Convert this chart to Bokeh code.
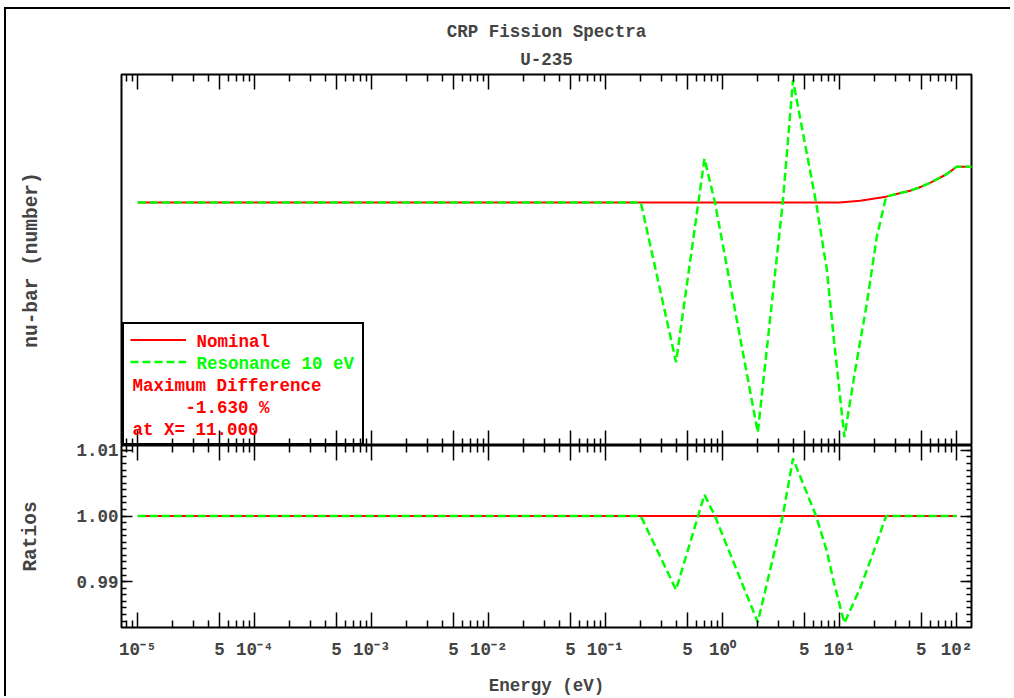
from bokeh.plotting import figure
from bokeh.models import (LogAxis, LinearAxis, FixedTicker, Range1d, Legend, LegendItem, Title,
                          Label, CustomJSTickFormatter, PrintfTickFormatter, CustomLabelingPolicy)
from bokeh.layouts import column
from bokeh.embed import file_html
from bokeh.resources import INLINE

# ---------------- data ----------------
nominal_e = [1e-5, 1e-3, 1e-1, 10.0, 15.0, 20.0, 25.0, 30.0, 40.0, 50.0, 60.0, 70.0, 80.0, 90.0, 100.0, 140.0]
nominal_nu = [2.4367, 2.4367, 2.4367, 2.4367, 2.4370, 2.4374, 2.4377, 2.4381, 2.4387, 2.4394,
              2.4401, 2.4408, 2.4414, 2.4421, 2.4428, 2.4428]

resonance_e = [1e-5, 0.2, 0.4, 0.7, 0.86, 2.0, 3.27, 4.0, 6.3, 7.8, 8.9, 11.0, 13.6, 17.1, 20.8,
               25.0, 30.0, 40.0, 50.0, 60.0, 70.0, 80.0, 90.0, 100.0, 140.0]
resonance_nu = [2.4367, 2.4367, 2.4094, 2.4442, 2.4367, 2.3974, 2.4367, 2.4576, 2.4367, 2.4251,
                2.4137, 2.3966, 2.4080, 2.4194, 2.4308, 2.4377, 2.4381, 2.4387, 2.4394, 2.4401,
                2.4408, 2.4414, 2.4421, 2.4428, 2.4428]

ratio_nominal_e = [1e-5, 100.0]
ratio_nominal = [1.0, 1.0]

ratio_res_e = [1e-5, 0.2, 0.4, 0.7, 0.86, 2.0, 3.27, 4.0, 6.3, 7.8, 8.9, 11.0, 15.0, 19.5, 25.0, 100.0]
ratio_res = [1.0, 1.0, 0.98876, 1.00325, 1.0, 0.9838, 1.0, 1.00876, 1.0, 0.9946, 0.9900, 0.9837,
             0.9890, 0.9945, 1.0, 1.0]

x_major_ticks = [1e-5, 5e-5, 1e-4, 5e-4, 1e-3, 5e-3, 1e-2, 5e-2, 1e-1, 5e-1, 1.0, 5.0, 10.0, 50.0, 100.0]
x_tick_labels = ["10\u207b\u2075", "5", "10\u207b\u2074", "5", "10\u207b\u00b3", "5", "10\u207b\u00b2", "5",
                 "10\u207b\u00b9", "5", "10\u2070", "5", "10\u00b9", "5", "10\u00b2"]
x_minor_ticks = [k * 10.0 ** n for n in range(-6, 3) for k in (2, 3, 4, 6, 7, 8, 9)]

y_ratio_ticks = [0.99, 1.00, 1.01]
y_ratio_minor = [round(0.983 + 0.001 * i, 3) for i in range(29)]

title_lines = ["CRP Fission Spectra", "U-235"]
legend_lines = ["Nominal", "Resonance 10 eV", "Maximum Difference", "-1.630 %", "at X= 11.000"]

# ---------------- styling ----------------
FONT = "Liberation Mono"
FS = "17.5px"
RED = "#ff0000"
GREEN = "#00ff00"
W = 1006
X_START, X_END = 7.26e-6, 134.3
OVERLAP = 9

NO_LABELS = CustomLabelingPolicy(code="""
try { for (const i of Array.from(indices)) indices.unset(i); } catch (e) {}
return indices
""")


def hide_labels(ax):
    ax.major_label_text_font_size = "0px"
    ax.major_label_standoff = 0
    ax.major_label_policy = NO_LABELS


def x_axis(with_labels):
    ax = LogAxis(ticker=FixedTicker(ticks=x_major_ticks, minor_ticks=x_minor_ticks))
    ax.major_tick_in = 15
    ax.major_tick_out = 0
    ax.minor_tick_in = 7
    ax.minor_tick_out = 0
    ax.major_tick_line_width = 1.5
    ax.minor_tick_line_width = 1.5
    ax.axis_line_color = None
    if with_labels:
        ax.formatter = CustomJSTickFormatter(
            args=dict(tvals=x_major_ticks, tlabels=x_tick_labels),
            code="""
            for (let i = 0; i < tvals.length; i++) {
                if (Math.abs(tvals[i] - tick) <= 1e-9 * tvals[i]) return tlabels[i];
            }
            return '';
            """)
        ax.major_label_text_font = FONT
        ax.major_label_text_font_style = "bold"
        ax.major_label_text_font_size = FS
        ax.major_label_standoff = 12
    else:
        hide_labels(ax)
    return ax


def base_fig(height, top, bottom):
    p = figure(width=W, height=height, x_axis_type="log", x_axis_location=None, y_axis_location=None,
               x_range=Range1d(X_START, X_END), output_backend="svg", toolbar_location=None,
               min_border_left=115, min_border_right=41, min_border_top=top, min_border_bottom=bottom)
    p.xgrid.visible = False
    p.ygrid.visible = False
    p.outline_line_color = "black"
    p.outline_line_width = 2
    p.background_fill_color = "white"
    p.border_fill_color = "white"
    return p


# ---------------- top panel ----------------
p1 = base_fig(436, 65, 0)
p1.y_range = Range1d(2.39516, 2.45858)
p1.title.text = title_lines[0]
p1.title.align = "center"
p1.title.text_font = FONT
p1.title.text_font_style = "bold"
p1.title.text_font_size = FS
p1.title.standoff = 1

p1.add_layout(x_axis(False), "above")
p1.add_layout(Title(text=title_lines[1], align="center", text_font=FONT, text_font_style="bold",
                    text_font_size=FS), "above")
p1.add_layout(x_axis(False), "below")
yl = LinearAxis(ticker=FixedTicker(ticks=[]), axis_label="nu-bar (number)")
yl.axis_line_color = None
hide_labels(yl)
yl.axis_label_text_font = FONT
yl.axis_label_text_font_style = "bold"
yl.axis_label_text_font_size = "19.5px"
yl.axis_label_standoff = 79
p1.add_layout(yl, "left")

r_nom = p1.line(nominal_e, nominal_nu, line_color=RED, line_width=2)
r_res = p1.line(resonance_e, resonance_nu, line_color=GREEN, line_width=2.5, line_dash="8 4")
r_blank = p1.line([], [], line_alpha=0)

legend = Legend(items=[LegendItem(label=" ", renderers=[r_nom]),
                       LegendItem(label=" ", renderers=[r_res]),
                       LegendItem(label=" ", renderers=[r_blank]),
                       LegendItem(label=" ", renderers=[r_blank]),
                       LegendItem(label=" ", renderers=[r_blank])],
                location=(1, 0), margin=0, padding=6, spacing=3,
                label_height=19, glyph_height=19, glyph_width=56, label_width=161, label_standoff=9,
                label_text_font_size="8px",
                border_line_color="black", border_line_width=2, border_line_alpha=1.0,
                background_fill_alpha=0.0)
p1.add_layout(legend)

legend_pos = [(75, 104), (75, 82), (11, 60), (64, 38), (11, 16)]
legend_colors = [RED, GREEN, RED, RED, RED]
for txt, (lx, ly), col in zip(legend_lines, legend_pos, legend_colors):
    p1.add_layout(Label(x=lx, y=ly, x_units="screen", y_units="screen", text=txt,
                        text_color=col, text_font=FONT, text_font_style="bold",
                        text_font_size=FS, text_baseline="middle", text_align="left"))

# ---------------- bottom panel ----------------
p2 = base_fig(253 + OVERLAP, OVERLAP, 68)
p2.border_fill_alpha = 0.0
p2.styles = {"margin-top": "-%dpx" % OVERLAP}
p2.y_range = Range1d(0.98301, 1.01075)
p2.add_layout(x_axis(False), "above")
xb = x_axis(True)
xb.axis_label = "Energy (eV)"
xb.axis_label_text_font = FONT
xb.axis_label_text_font_style = "bold"
xb.axis_label_text_font_size = FS
xb.axis_label_standoff = 13
p2.add_layout(xb, "below")


def y_ratio_axis(with_labels):
    ax = LinearAxis(ticker=FixedTicker(ticks=y_ratio_ticks, minor_ticks=y_ratio_minor))
    ax.major_tick_in = 11
    ax.major_tick_out = 0
    ax.minor_tick_in = 5
    ax.minor_tick_out = 0
    ax.major_tick_line_width = 1.5
    ax.minor_tick_line_width = 1.5
    ax.axis_line_color = None
    if with_labels:
        ax.formatter = PrintfTickFormatter(format="%.2f")
        ax.major_label_text_font = FONT
        ax.major_label_text_font_style = "bold"
        ax.major_label_text_font_size = FS
        ax.major_label_standoff = 3
        ax.axis_label = "Ratios"
        ax.axis_label_text_font = FONT
        ax.axis_label_text_font_style = "bold"
        ax.axis_label_text_font_size = "19.5px"
        ax.axis_label_standoff = 31
    else:
        hide_labels(ax)
    return ax


p2.add_layout(y_ratio_axis(True), "left")
p2.add_layout(y_ratio_axis(False), "right")

p2.line(ratio_nominal_e, ratio_nominal, line_color=RED, line_width=2)
p2.line(ratio_res_e, ratio_res, line_color=GREEN, line_width=2.5, line_dash="8 4")

layout = column(p1, p2, spacing=0,
                styles={"box-shadow": "-2px -2px 0px 0px #000000",
                        "margin-left": "6px", "margin-top": "9px", "margin-bottom": "-40px"})

html = file_html(layout, INLINE)
html = html.replace("<head>", "<head><style>html, body { overflow: hidden; }</style>", 1)
open("out.html", "w").write(html)
